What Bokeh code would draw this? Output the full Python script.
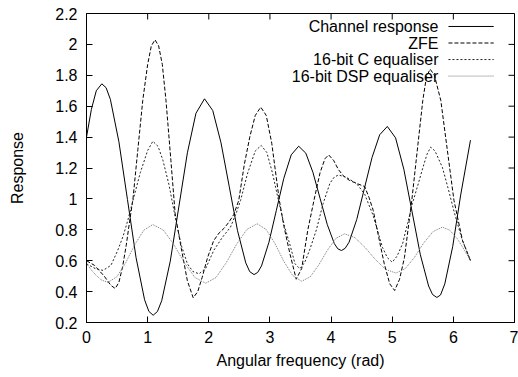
import math
from bokeh.plotting import figure
from bokeh.models import Range1d, FixedTicker
from bokeh.core.properties import value
from bokeh.embed import file_html
from bokeh.resources import INLINE

# ---------------- data ----------------
channel_w = [0.00, 0.08, 0.16, 0.25, 0.32, 0.39, 0.53, 0.67, 0.81, 0.95, 1.02, 1.09, 1.16, 1.23, 1.37, 1.51,
             1.65, 1.79, 1.93, 2.065, 2.20, 2.335, 2.47, 2.605, 2.67, 2.74, 2.80, 2.862, 2.983, 3.105,
             3.227, 3.348, 3.47, 3.587, 3.703, 3.82, 3.937, 4.053, 4.11, 4.17, 4.23, 4.295, 4.42, 4.545,
             4.67, 4.795, 4.92, 5.055, 5.19, 5.325, 5.46, 5.595, 5.66, 5.73, 5.79, 5.86, 5.99, 6.12, 6.28]
channel_r = [1.40, 1.58, 1.70, 1.745, 1.72, 1.645, 1.370, 0.996, 0.621, 0.347, 0.272, 0.247, 0.271, 0.341, 0.597, 0.948,
             1.298, 1.554, 1.648, 1.572, 1.363, 1.079, 0.794, 0.586, 0.529, 0.510, 0.524, 0.566, 0.718, 0.926,
             1.133, 1.285, 1.341, 1.296, 1.172, 1.004, 0.835, 0.711, 0.677, 0.666, 0.680, 0.720, 0.867, 1.068,
             1.268, 1.415, 1.469, 1.395, 1.192, 0.916, 0.639, 0.436, 0.381, 0.362, 0.378, 0.450, 0.693, 1.026, 1.38]

zfe_w = [0.00, 0.13, 0.29, 0.40, 0.47, 0.53, 0.59, 0.65, 0.70, 0.76, 0.84, 0.92, 1.00, 1.06, 1.12, 1.18,
         1.24, 1.30, 1.38, 1.45, 1.55, 1.65, 1.745, 1.82, 1.89, 1.98, 2.08, 2.17, 2.25, 2.33, 2.41, 2.49,
         2.58, 2.67, 2.76, 2.85, 2.94, 3.03, 3.15, 3.23, 3.33, 3.43, 3.52, 3.62, 3.72, 3.82, 3.90, 3.96,
         4.04, 4.12, 4.20, 4.30, 4.42, 4.55, 4.62, 4.69, 4.78, 4.87, 4.96, 5.04, 5.12, 5.20, 5.32, 5.42,
         5.50, 5.56, 5.62, 5.69, 5.795, 5.90, 6.01, 6.15, 6.28]
zfe_r = [0.60, 0.57, 0.50, 0.44, 0.42, 0.46, 0.56, 0.70, 0.84, 1.00, 1.32, 1.637, 1.87, 1.99, 2.03, 1.99,
         1.87, 1.637, 1.25, 0.904, 0.68, 0.47, 0.36, 0.40, 0.49, 0.62, 0.73, 0.78, 0.81, 0.85, 0.90, 0.99,
         1.22, 1.40, 1.54, 1.594, 1.54, 1.36, 1.00, 0.82, 0.64, 0.48, 0.55, 0.80, 0.99, 1.17, 1.26, 1.285,
         1.25, 1.19, 1.15, 1.12, 1.10, 1.08, 1.01, 0.925, 0.75, 0.58, 0.45, 0.407, 0.48, 0.62, 0.99, 1.35,
         1.637, 1.79, 1.84, 1.80, 1.637, 1.32, 0.99, 0.73, 0.60]

ceq_w = [0.00, 0.14, 0.27, 0.40, 0.51, 0.60, 0.675, 0.76, 0.88, 1.00, 1.085, 1.17, 1.25, 1.35, 1.44,
         1.55, 1.65, 1.74, 1.84, 1.95, 2.08, 2.22, 2.355, 2.45, 2.52, 2.63, 2.76, 2.857, 2.95, 3.04,
         3.14, 3.24, 3.33, 3.41, 3.49, 3.57, 3.65, 3.76, 3.87, 3.98, 4.05, 4.12, 4.25, 4.42, 4.55,
         4.69, 4.84, 4.92, 5.00, 5.08, 5.17, 5.25, 5.33, 5.42, 5.50, 5.57, 5.63, 5.70, 5.82, 5.92,
         6.01, 6.14, 6.28]
ceq_r = [0.58, 0.55, 0.537, 0.57, 0.666, 0.76, 0.86, 0.99, 1.17, 1.313, 1.373, 1.34, 1.25, 1.09, 0.904,
         0.70, 0.58, 0.53, 0.515, 0.55, 0.666, 0.75, 0.817, 0.91, 0.99, 1.16, 1.31, 1.346, 1.30, 1.17,
         0.99, 0.82, 0.70, 0.58, 0.548, 0.59, 0.67, 0.80, 0.97, 1.10, 1.14, 1.155, 1.14, 1.098, 1.03,
         0.89, 0.687, 0.62, 0.59, 0.63, 0.71, 0.84, 0.97, 1.09, 1.20, 1.29, 1.335, 1.31, 1.205, 1.06,
         0.92, 0.74, 0.60]

dsp_w = [0.00, 0.12, 0.24, 0.35, 0.497, 0.644, 0.791, 0.938, 1.085, 1.258, 1.431, 1.604, 1.777, 1.95,
         2.118, 2.286, 2.454, 2.622, 2.79, 2.936, 3.082, 3.228, 3.374, 3.52, 3.66, 3.80, 3.94, 4.08,
         4.22, 4.388, 4.556, 4.724, 4.892, 5.06, 5.212, 5.364, 5.516, 5.668, 5.82, 5.94, 6.06, 6.17, 6.28]
dsp_r = [0.58, 0.52, 0.476, 0.46, 0.496, 0.589, 0.705, 0.798, 0.834, 0.798, 0.703, 0.585, 0.490, 0.454,
         0.491, 0.587, 0.706, 0.802, 0.839, 0.803, 0.711, 0.595, 0.503, 0.467, 0.496, 0.573, 0.668, 0.745,
         0.774, 0.750, 0.686, 0.608, 0.544, 0.52, 0.548, 0.622, 0.715, 0.789, 0.817, 0.798, 0.744, 0.676, 0.60]

legend_labels = ["Channel response", "ZFE", "16-bit C equaliser", "16-bit DSP equaliser"]
x_ticks = [0, 1, 2, 3, 4, 5, 6, 7]
y_ticks = [0.2, 0.4, 0.6, 0.8, 1.0, 1.2, 1.4, 1.6, 1.8, 2.0, 2.2]
y_tick_labels = ["0.2", "0.4", "0.6", "0.8", "1", "1.2", "1.4", "1.6", "1.8", "2", "2.2"]
x_label = "Angular frequency (rad)"
y_label = "Response"

X_MIN, X_MAX = 0, 7
Y_MIN, Y_MAX = 0.2, 2.2

# ---------------- styling ----------------
FONT = "Liberation Sans"
FS = "16px"
TICK = 6
styles = [
    dict(color="black", dash="solid"),
    dict(color="black", dash="4 2"),
    dict(color="#222222", dash="2 2"),
    dict(color="#777777", dash="1 1"),
]

p = figure(width=518, height=377, x_range=Range1d(X_MIN, X_MAX), y_range=Range1d(Y_MIN, Y_MAX),
           output_backend="svg", toolbar_location=None,
           min_border_left=86, min_border_right=4, min_border_top=13, min_border_bottom=55)
p.xgrid.visible = False
p.ygrid.visible = False
p.outline_line_color = "black"
p.outline_line_width = 1
p.outline_line_alpha = 1.0
p.background_fill_color = "white"
p.border_fill_color = "white"


def style_axis(ax, ticks):
    ax.ticker = FixedTicker(ticks=ticks)
    ax.major_tick_in = TICK
    ax.major_tick_out = 0
    ax.minor_tick_line_color = None
    ax.major_tick_line_color = "black"
    ax.axis_line_color = "black"
    ax.major_label_text_color = "black"
    ax.major_label_text_font = FONT
    ax.major_label_text_font_size = FS
    ax.axis_label_text_font = FONT
    ax.axis_label_text_font_style = "normal"
    ax.axis_label_text_color = "black"
    ax.axis_label_text_font_size = FS


xa = p.xaxis[0]
ya = p.yaxis[0]
style_axis(xa, x_ticks)
style_axis(ya, y_ticks)
xa.axis_label = x_label
ya.axis_label = y_label
xa.major_label_standoff = 8
xa.axis_label_standoff = 6
ya.major_label_standoff = 9
ya.axis_label_standoff = 26
ya.major_label_overrides = {t: l for t, l in zip(y_ticks, y_tick_labels)}

# mirrored inward ticks on the top and right borders (gnuplot style)
p.ray(x=x_ticks, y=[Y_MAX] * len(x_ticks), length=TICK, length_units="screen",
      angle=-math.pi / 2, line_color="black", line_width=1)
p.ray(x=[X_MAX] * len(y_ticks), y=y_ticks, length=TICK, length_units="screen",
      angle=math.pi, line_color="black", line_width=1)

series = [(channel_w, channel_r), (zfe_w, zfe_r), (ceq_w, ceq_r), (dsp_w, dsp_r)]
for (xs, ys), st in zip(series, styles):
    p.line(xs, ys, line_color=st["color"], line_dash=st["dash"], line_width=1)

# ---------------- key (gnuplot style: text right-aligned, sample on the right) ----------------
key_text_x = 5.757
key_line_x0 = 5.92
key_line_x1 = 6.66
key_top = 2.116
key_step = 0.107
key_y = [key_top - i * key_step for i in range(len(legend_labels))]
p.text(x=[key_text_x] * len(legend_labels), y=key_y, text=legend_labels,
       text_align="right", text_baseline="middle", text_color="black",
       text_font=value(FONT), text_font_size=FS)
for yk, st in zip(key_y, styles):
    p.segment(x0=[key_line_x0], y0=[yk], x1=[key_line_x1], y1=[yk],
              line_color=st["color"], line_dash=st["dash"], line_width=1)

open("out.html", "w").write(file_html(p, INLINE))
